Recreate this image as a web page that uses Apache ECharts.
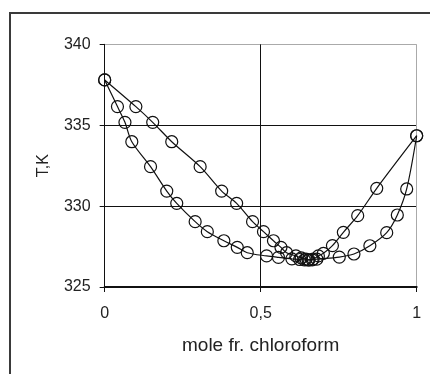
<!DOCTYPE html>
<html>
<head>
<meta charset="utf-8">
<script src="https://cdn.jsdelivr.net/npm/echarts@6/dist/echarts.min.js"></script>
<style>
html,body{margin:0;padding:0;background:#fff;overflow:hidden;}
#chart{width:431px;height:374px;}
</style>
</head>
<body>
<div id="chart"></div>
<script>
// Liquid (bubble) curve: mole fraction chloroform and T, K
var liquidX = [0, 0.041, 0.065, 0.087, 0.147, 0.199, 0.231, 0.290, 0.329, 0.382, 0.425, 0.457, 0.519, 0.557, 0.600, 0.625, 0.640, 0.652, 0.665, 0.680, 0.752, 0.799, 0.850, 0.904, 0.938, 0.968, 1];
var liquidT = [337.8, 336.15, 335.18, 333.98, 332.44, 330.93, 330.17, 329.04, 328.42, 327.86, 327.45, 327.12, 326.92, 326.83, 326.74, 326.70, 326.68, 326.67, 326.68, 326.72, 326.85, 327.04, 327.55, 328.36, 329.45, 331.06, 334.35];
// Vapour (dew) curve
var vapourX = [0, 0.100, 0.154, 0.215, 0.306, 0.375, 0.423, 0.474, 0.509, 0.541, 0.565, 0.583, 0.613, 0.630, 0.645, 0.655, 0.668, 0.685, 0.701, 0.730, 0.765, 0.811, 0.872, 1];
var vapourT = [337.8, 336.15, 335.18, 333.98, 332.44, 330.93, 330.17, 329.04, 328.42, 327.86, 327.45, 327.12, 326.92, 326.80, 326.72, 326.68, 326.72, 326.92, 327.08, 327.56, 328.38, 329.41, 331.10, 334.35];
var xTickLabels = {0: '0', 0.5: '0,5', 1: '1'};

function pairs(xs, ts) { return xs.map(function (x, i) { return [x, ts[i]]; }); }

var chart = echarts.init(document.getElementById('chart'), null, {renderer: 'canvas'});
var textColor = '#222';
var markerStyle = {color: 'rgba(0,0,0,0)', borderColor: '#111', borderWidth: 1.2};
chart.setOption({
  animation: false,
  backgroundColor: '#fff',
  grid: {left: 104.67, right: 14.33, top: 44.33, bottom: 87},
  graphic: [
    {type: 'line', shape: {x1: 10, y1: 13, x2: 430, y2: 13}, style: {stroke: '#3a3a3a', lineWidth: 2}},
    {type: 'line', shape: {x1: 10, y1: 12, x2: 10, y2: 374}, style: {stroke: '#3a3a3a', lineWidth: 2}}
  ],
  xAxis: {
    type: 'value', min: 0, max: 1, interval: 0.5,
    name: 'mole fr. chloroform', nameLocation: 'middle', nameGap: 49,
    nameTextStyle: {fontFamily: 'Liberation Sans, Arial', fontSize: 19, color: textColor},
    axisLine: {show: true, onZero: false, lineStyle: {color: '#111', width: 2}},
    axisTick: {show: true, length: 5, lineStyle: {color: '#111'}},
    axisLabel: {margin: 19, fontFamily: 'Liberation Sans, Arial', fontSize: 16, color: textColor,
      formatter: function (v) { return xTickLabels[v] !== undefined ? xTickLabels[v] : ''; }},
    splitLine: {show: true, lineStyle: {color: ['#111', '#111', '#aaa'], width: 1}}
  },
  yAxis: {
    type: 'value', min: 325, max: 340, interval: 5,
    name: 'T,K', nameLocation: 'middle', nameGap: 53,
    nameTextStyle: {fontFamily: 'Liberation Sans, Arial', fontSize: 16, color: textColor},
    axisLine: {show: true, onZero: false, lineStyle: {color: '#111', width: 1}},
    axisTick: {show: true, length: 5, lineStyle: {color: '#111'}},
    axisLabel: {margin: 14, fontFamily: 'Liberation Sans, Arial', fontSize: 16, color: textColor},
    splitLine: {show: true, lineStyle: {color: ['#111', '#111', '#111', '#aaa'], width: 1}}
  },
  series: [
    {type: 'line', data: pairs(liquidX, liquidT), smooth: 0.3, symbol: 'circle', symbolSize: 12,
      lineStyle: {color: '#111', width: 1.2}, itemStyle: markerStyle, z: 3},
    {type: 'line', data: pairs(vapourX, vapourT), smooth: 0.3, symbol: 'circle', symbolSize: 12,
      lineStyle: {color: '#111', width: 1.2}, itemStyle: markerStyle, z: 3}
  ]
});
</script>
</body>
</html>
